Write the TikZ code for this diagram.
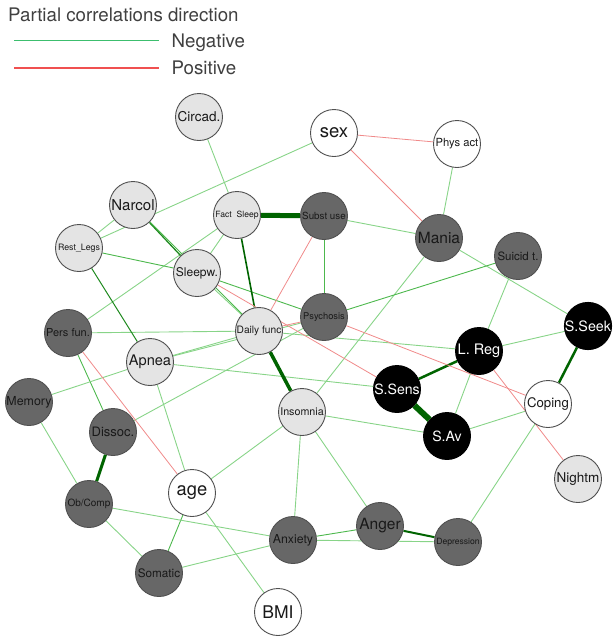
\documentclass[tikz,border=0pt]{standalone}
\usepackage{fontspec}
\setmainfont{TeX Gyre Heros}
\definecolor{lightfill}{HTML}{E4E4E4}
\definecolor{darkfill}{HTML}{676767}
\definecolor{bordc}{HTML}{505050}
\definecolor{eg}{HTML}{88D488}
\definecolor{egm}{HTML}{4DB84D}
\definecolor{egd}{HTML}{1F8A1F}
\definecolor{egk}{HTML}{006400}
\definecolor{er}{HTML}{F08A8A}
\definecolor{legtxt}{HTML}{404040}
\definecolor{legg}{HTML}{3CBE6E}
\definecolor{legr}{HTML}{F05050}
\pgfdeclarelayer{bg}
\pgfsetlayers{bg,main}
\tikzset{
  nd/.style={circle, draw=bordc, line width=0.9pt, minimum size=47pt, inner sep=0pt, text=black!90},
  ln/.style={nd, fill=lightfill},
  dn/.style={nd, fill=darkfill},
  bn/.style={nd, fill=black, draw=black, text=white},
  wn/.style={nd, fill=white},
  eL/.style={draw=eg, line width=0.9pt},
  eM/.style={draw=egm, line width=0.9pt},
  eD/.style={draw=egd, line width=1.3pt},
  eK/.style={draw=egk, line width=#1},
  eR/.style={draw=er, line width=0.8pt},
  legt/.style={anchor=base west, inner sep=0pt, text=legtxt, font=\fontsize{18.7}{18.7}\selectfont}
}
\newcommand{\fs}[1]{\fontsize{#1}{#1}\selectfont}
\begin{document}
\begin{tikzpicture}[x=1pt,y=-1pt]
\useasboundingbox (0,0) rectangle (613,638);
% legend
\node[legt] (title) at (8,21) {Partial correlations direction};
\coordinate (ng1) at (14,40.7); \coordinate (ng2) at (158.7,40.7);
\draw[draw=legg, line width=1.3pt] (ng1) -- (ng2);
\node[legt] (neg) at (171.5,47.3) {Negative};
\coordinate (ps1) at (14,68); \coordinate (ps2) at (158.7,68);
\draw[draw=legr, line width=1.3pt] (ps1) -- (ps2);
\node[legt] (pos) at (171.5,74) {Positive};
% nodes
\node[ln, font=\fs{13.5}] (circ) at (199,117) {Circad.};
\node[wn, font=\fs{18.5}] (sex) at (334,133) {sex};
\node[wn, font=\fs{11.2}] (phys) at (457,144) {Phys act};
\node[ln, font=\fs{15}] (narc) at (133,205) {Narcol};
\node[ln, font=\fs{8.6}] (fact) at (237,215) {Fact\ \ Sleep};
\node[dn, font=\fs{9.8}] (subst) at (324,216) {Subst use};
\node[dn, font=\fs{15.5}] (mania) at (439,238) {Mania};
\node[dn, font=\fs{11.5}] (suic) at (518,256) {Suicid t.};
\node[ln, font=\fs{8.8}] (rest) at (79,248) {Rest\_Legs};
\node[ln, font=\fs{12}] (sleepw) at (197,273) {Sleepw.};
\node[dn, font=\fs{9.3}] (psych) at (324,317) {Psychosis};
\node[ln, font=\fs{10.2}] (daily) at (259,331) {Daily func};
\node[dn, font=\fs{11}] (pers) at (68,333) {Pers fun.};
\node[ln, font=\fs{14.6}] (apnea) at (150,362) {Apnea};
\node[bn, font=\fs{14.3}] (sseek) at (588,326) {S.Seek};
\node[bn, font=\fs{14.5}] (lreg) at (479,351) {L. Reg};
\node[bn, font=\fs{14.1}] (ssens) at (397,389) {S.Sens};
\node[wn, font=\fs{13.2}] (coping) at (548,404) {Coping};
\node[dn, font=\fs{12.4}] (memory) at (29,402) {Memory};
\node[ln, font=\fs{10.7}] (insom) at (302,412) {Insomnia};
\node[dn, font=\fs{13}] (dissoc) at (113,432) {Dissoc.};
\node[bn, font=\fs{14.1}] (sav) at (447,436) {S.Av};
\node[ln, font=\fs{13.5}] (nightm) at (578,479) {Nightm};
\node[wn, font=\fs{18.3}] (age) at (192,493) {age};
\node[dn, font=\fs{10}] (obcomp) at (89,504) {Ob/Comp};
\node[dn, font=\fs{15.5}] (anger) at (380,526) {Anger};
\node[dn, font=\fs{12.3}] (anxiety) at (293,540) {Anxiety};
\node[dn, font=\fs{8.6}] (depr) at (458,542) {Depression};
\node[dn, font=\fs{11.7}] (somatic) at (159,573) {Somatic};
\node[wn, font=\fs{17.5}] (bmi) at (278,612) {BMI};
% edges
\begin{pgfonlayer}{bg}
\draw[eL] (circ) -- (fact);
\draw[eL] (sex) -- (rest);
\draw[eL] (phys) -- (mania);
\draw[eL] (subst) -- (mania);
\draw[eM] (subst) -- (psych);
\draw[eL] (mania) -- (insom);
\draw[eL] (mania) -- (sseek);
\draw[eM] (suic) -- (psych);
\draw[eL] (suic) -- (lreg);
\draw[eL] (fact) -- (sleepw);
\draw[eL] (fact) -- (pers);
\draw[eL] (rest) -- (narc);
\draw[eM] (rest) -- (sleepw);
\draw[eM] (sleepw) -- (psych);
\draw[eL] (sleepw) -- (daily);
\draw[eL] (pers) -- (daily);
\draw[eM] (pers) -- (dissoc);
\draw[eL] (apnea) -- (memory);
\draw[eL] (apnea) -- (daily);
\draw[eL] (apnea) -- (psych);
\draw[eL] (apnea) -- (ssens);
\draw[eL] (apnea) -- (age);
\draw[eL] (age) -- (bmi);
\draw[eL] (age) -- (insom);
\draw[eM] (age) -- (somatic);
\draw[eL] (dissoc) -- (psych);
\draw[eL] (memory) -- (obcomp);
\draw[eL] (obcomp) -- (somatic);
\draw[eL] (obcomp) -- (anxiety);
\draw[eL] (somatic) -- (anxiety);
\draw[eL] (insom) -- (anxiety);
\draw[eL] (insom) -- (anger);
\draw[eL] (insom) -- (sav);
\draw[eM] (anxiety) -- (anger);
\draw[eL] (anxiety) -- (depr);
\draw[eL] (depr) -- (coping);
\draw[eL] (lreg) -- (sseek);
\draw[eL] (lreg) -- (sav);
\draw[eL] (sav) -- (coping);
\draw[eL] (daily) -- (lreg);
\draw[eD] (narc) -- (sleepw);
\draw[eM] (narc) -- (daily);
\draw[eD, line width=1pt] (rest) -- (apnea);
\draw[eK=1.6pt] (fact) -- (daily);
\draw[eK=5pt] (fact) -- (subst);
\draw[eK=3.5pt] (daily) -- (insom);
\draw[eK=3pt] (dissoc) -- (obcomp);
\draw[eK=6pt] (ssens) -- (sav);
\draw[eK=2.5pt] (ssens) -- (lreg);
\draw[eK=2.5pt] (sseek) -- (coping);
\draw[eK=2pt] (anger) -- (depr);
\draw[eR] (sex) -- (phys);
\draw[eR] (sex) -- (mania);
\draw[eR] (subst) -- (daily);
\draw[eR] (sleepw) -- (ssens);
\draw[eR] (psych) -- (coping);
\draw[eR] (lreg) -- (nightm);
\draw[eR] (pers) -- (age);
\draw[eR] (daily) -- (psych);
\end{pgfonlayer}
\end{tikzpicture}
\end{document}
